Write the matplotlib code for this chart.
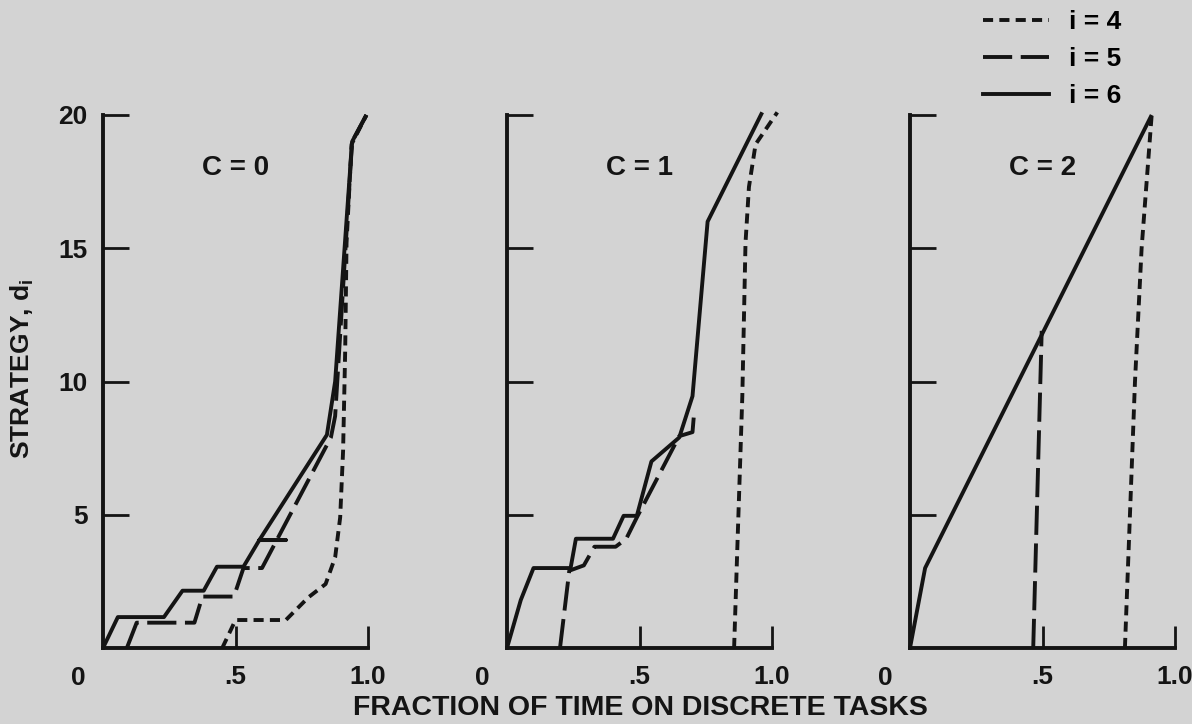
import numpy as np
import matplotlib.pyplot as plt
from matplotlib.lines import Line2D

# fondo gris del escaneo
BG = '#d3d3d3'
INK = '#141414'
FONT = ['Liberation Sans', 'DejaVu Sans']
plt.rcParams['font.family'] = FONT
plt.rcParams['font.weight'] = 'bold'

panel_titles = ['C = 0', 'C = 1', 'C = 2']
legend_labels = ['i = 4', 'i = 5', 'i = 6']
y_ticks = [5, 10, 15, 20]
x_ticks = [0.5, 1.0]
x_tick_labels = ['.5', '1.0']

# C = 0
c0_i4_x = [0.45, 0.50, 0.69, 0.775, 0.84, 0.876, 0.895, 0.906, 0.914, 0.919, 0.938, 0.994]
c0_i4_y = [0.0, 1.05, 1.05, 1.9, 2.4, 3.4, 4.9, 7.4, 11.2, 15.2, 18.9, 20.0]
c0_i5_x = [0.09, 0.127, 0.345, 0.375, 0.494, 0.53, 0.60, 0.86, 0.876, 0.94, 0.994]
c0_i5_y = [0.0, 0.95, 0.95, 1.93, 1.93, 3.0, 3.0, 7.9, 8.7, 19.0, 20.0]
c0_i6_x = [0.0, 0.056, 0.23, 0.30, 0.38, 0.43, 0.53, 0.59, 0.69, 0.59, 0.845, 0.876, 0.94, 0.994]
c0_i6_y = [0.0, 1.16, 1.16, 2.15, 2.15, 3.05, 3.05, 4.05, 4.05, 4.05, 8.0, 10.0, 19.0, 20.0]

# C = 1
c1_i4_x = [0.857, 0.869, 0.888, 0.90, 0.913, 0.938, 1.02]
c1_i4_y = [0.0, 3.7, 9.45, 15.2, 17.3, 18.9, 20.1]
c1_i5_x = [0.20, 0.235, 0.29, 0.33, 0.41, 0.45, 0.49, 0.65, 0.70, 0.705]
c1_i5_y = [0.0, 2.9, 3.1, 3.8, 3.8, 4.1, 4.9, 7.95, 8.1, 8.7]
c1_i6_x = [0.0, 0.052, 0.10, 0.24, 0.26, 0.40, 0.44, 0.49, 0.545, 0.65, 0.70, 0.757, 0.963]
c1_i6_y = [0.0, 1.8, 3.0, 3.0, 4.1, 4.1, 4.96, 4.96, 7.0, 7.9, 9.45, 16.0, 20.1]

# C = 2
c2_i4_x = [0.811, 0.849, 0.874, 0.912]
c2_i4_y = [0.0, 10.0, 15.0, 20.0]
c2_i5_x = [0.465, 0.497]
c2_i5_y = [0.0, 11.9]
c2_i6_x = [0.0, 0.057, 0.912]
c2_i6_y = [0.0, 3.0, 20.0]

series = [
    [(c0_i4_x, c0_i4_y), (c0_i5_x, c0_i5_y), (c0_i6_x, c0_i6_y)],
    [(c1_i4_x, c1_i4_y), (c1_i5_x, c1_i5_y), (c1_i6_x, c1_i6_y)],
    [(c2_i4_x, c2_i4_y), (c2_i5_x, c2_i5_y), (c2_i6_x, c2_i6_y)],
]

LW = 2.8
estilos = [(0, (2.6, 1.6)), (0, (7.5, 2.2)), '-']
FS = 19

fig = plt.figure(figsize=(11.92, 7.24), dpi=100, facecolor=BG)

lefts = [103, 507, 910]
for k in range(3):
    ax = fig.add_axes([lefts[k] / 1192, 76 / 724, 265 / 1192, 533 / 724])
    ax.set_facecolor(BG)
    ax.set_xlim(0, 1)
    ax.set_ylim(0, 20)
    for s in ['top', 'right']:
        ax.spines[s].set_visible(False)
    for s in ['left', 'bottom']:
        ax.spines[s].set_linewidth(2.8)
        ax.spines[s].set_color(INK)
    ax.set_yticks(y_ticks)
    ax.set_xticks(x_ticks)
    ax.set_xticklabels(x_tick_labels)
    if k == 0:
        ax.set_yticklabels([str(v) for v in y_ticks])
    else:
        ax.set_yticklabels([])
    ax.tick_params(axis='y', direction='in', length=19, width=2.0, color=INK,
                   labelsize=FS, pad=11, labelcolor=INK)
    ax.tick_params(axis='x', direction='in', length=16, width=2.0, color=INK,
                   labelsize=FS, pad=12, labelcolor=INK)
    ax.text(-0.094, -0.034, '0', transform=ax.transAxes, ha='center', va='top',
            fontsize=FS, fontweight='bold', color=INK)
    ax.text(0.5, 18.0, panel_titles[k], ha='center', va='center',
            fontsize=FS + 1, fontweight='bold', color=INK)
    for (xs, ys), ls in zip(series[k], estilos):
        ax.plot(xs, ys, color=INK, lw=LW, linestyle=ls, clip_on=False,
                solid_capstyle='butt', dash_capstyle='butt')

handles = [Line2D([], [], color=INK, lw=LW, linestyle=ls) for ls in estilos]
fig.legend(handles, legend_labels, loc='upper left', bbox_to_anchor=(975 / 1192, 0.997),
           frameon=False, handlelength=2.5, handletextpad=0.75, labelspacing=0.5,
           prop={'family': FONT, 'weight': 'bold', 'size': FS}, borderaxespad=0.1,
           borderpad=0.2)

fig.text(22 / 1192, 0.49, 'STRATEGY, d$_\\mathregular{i}$', rotation=90,
         ha='center', va='center', fontsize=FS, fontweight='bold', color=INK)
fig.text(0.537, 0.022, 'FRACTION OF TIME ON DISCRETE TASKS', ha='center', va='center',
         fontsize=20.5, fontweight='bold', color=INK)

fig.savefig('out.png', dpi=100, facecolor=BG)
